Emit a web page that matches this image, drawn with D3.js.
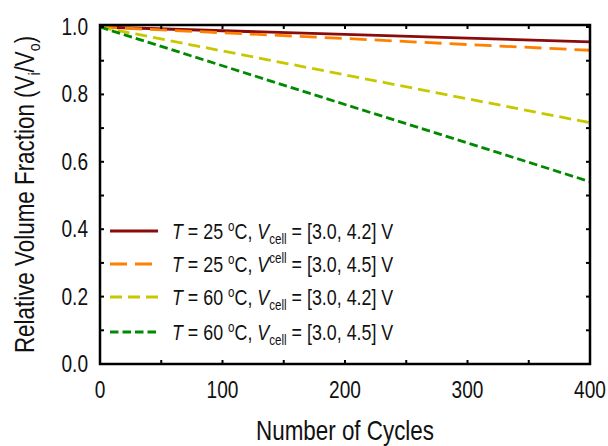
<!DOCTYPE html>
<html>
<head>
<meta charset="utf-8">
<script src="https://cdn.jsdelivr.net/npm/d3@7"></script>
<style>
  html, body { margin: 0; padding: 0; background: #fff; }
  svg text { font-family: "Liberation Sans", Arial, sans-serif; fill: #111; }
</style>
</head>
<body>
<svg id="chart" width="608" height="446"></svg>
<script>
// Cycle counts sampled along each curve
const cycles = [0, 100, 200, 300, 400];

// Relative volume fraction V_i/V_o for each test condition
const fracT25V42 = [1.0, 0.989, 0.978, 0.967, 0.956];
const fracT25V45 = [1.0, 0.983, 0.966, 0.948, 0.931];
const fracT60V42 = [1.0, 0.929, 0.858, 0.787, 0.716];
const fracT60V45 = [1.0, 0.885, 0.770, 0.656, 0.541];

const xTicks = [0, 100, 200, 300, 400];
const yTicks = [0.0, 0.2, 0.4, 0.6, 0.8, 1.0];

const series = [
  { values: fracT25V42, color: "#8b0a0a", dash: null,    T: "25", V: "[3.0, 4.2] V", sup: false },
  { values: fracT25V45, color: "#ff8000", dash: "17,8",  T: "25", V: "[3.0, 4.5] V", sup: true },
  { values: fracT60V42, color: "#c8c800", dash: "12,6",  T: "60", V: "[3.0, 4.2] V", sup: false },
  { values: fracT60V45, color: "#008a00", dash: "8.5,4", T: "60", V: "[3.0, 4.5] V", sup: false }
];

const NARROW = 0.83; // horizontal squeeze giving a narrow face

const svg = d3.select("#chart");
const plot = { left: 100, right: 590, top: 25, bottom: 364 };

const x = d3.scaleLinear().domain([0, 400]).range([plot.left, plot.right]);
const y = d3.scaleLinear().domain([0, 1.006]).range([plot.bottom, plot.top]);

// Text placed at (tx, ty) and squeezed horizontally
function narrowText(parent, tx, ty, size, anchor, rotate) {
  return parent.append("text")
    .attr("transform", `translate(${tx},${ty})${rotate ? ` rotate(${rotate})` : ""} scale(${NARROW},1)`)
    .attr("font-size", size)
    .attr("text-anchor", anchor);
}

// Data lines
const line = d3.line().x((d, i) => x(cycles[i])).y(d => y(d));
series.forEach(s => {
  svg.append("path")
    .datum(s.values)
    .attr("d", line)
    .attr("fill", "none")
    .attr("stroke", s.color)
    .attr("stroke-width", 2.8)
    .attr("stroke-dasharray", s.dash);
});

// Inward ticks on all four sides
const xMinor = d3.range(50, 400, 100);
const yMinor = d3.range(0.1, 1.0, 0.2);
const tickG = svg.append("g").attr("stroke", "#000").attr("stroke-width", 2);
xTicks.concat(xMinor).forEach(v => {
  const len = 4;
  tickG.append("line").attr("x1", x(v)).attr("x2", x(v)).attr("y1", plot.bottom).attr("y2", plot.bottom - len);
  tickG.append("line").attr("x1", x(v)).attr("x2", x(v)).attr("y1", plot.top).attr("y2", plot.top + len);
});
yTicks.concat(yMinor).forEach(v => {
  const len = 4;
  tickG.append("line").attr("x1", plot.left).attr("x2", plot.left + len).attr("y1", y(v)).attr("y2", y(v));
  tickG.append("line").attr("x1", plot.right).attr("x2", plot.right - len).attr("y1", y(v)).attr("y2", y(v));
});

// Frame
svg.append("rect")
  .attr("x", plot.left).attr("y", plot.top)
  .attr("width", plot.right - plot.left).attr("height", plot.bottom - plot.top)
  .attr("fill", "none").attr("stroke", "#000").attr("stroke-width", 2.5);

// Tick labels
xTicks.forEach(v => narrowText(svg, x(v), 398, 23, "middle").text(d3.format("d")(v)));
yTicks.forEach(v => narrowText(svg, 88, y(v) + 8, 23, "end").text(d3.format(".1f")(v)));

// Axis titles
narrowText(svg, (plot.left + plot.right) / 2, 440, 27, "middle").text("Number of Cycles");

const yTitle = narrowText(svg, 34, (plot.top + plot.bottom) / 2, 27, "middle", -90);
yTitle.append("tspan").text("Relative Volume Fraction (V");
yTitle.append("tspan").attr("font-size", 17).attr("dy", 6).text("i");
yTitle.append("tspan").attr("dy", -6).text("/V");
yTitle.append("tspan").attr("font-size", 17).attr("dy", 6).text("o");
yTitle.append("tspan").attr("dy", -6).text(")");

// Legend
const legendRows = [231, 264, 297, 332];
series.forEach((s, i) => {
  const ly = legendRows[i];
  svg.append("line")
    .attr("x1", 110).attr("x2", 158).attr("y1", ly).attr("y2", ly)
    .attr("stroke", s.color).attr("stroke-width", 2.8)
    .attr("stroke-dasharray", s.dash);
  const t = narrowText(svg, 172, ly + 7.6, 21.5, "start");
  t.append("tspan").attr("font-style", "italic").text("T");
  t.append("tspan").text(` = ${s.T} `);
  t.append("tspan").attr("font-size", 14).attr("dy", -8).text("o");
  t.append("tspan").attr("dy", 8).text("C, ");
  t.append("tspan").attr("font-style", "italic").text("V");
  if (s.sup) {
    t.append("tspan").attr("font-size", 14).attr("dy", -9).text("cell");
    t.append("tspan").attr("dy", 9).text(` = ${s.V}`);
  } else {
    t.append("tspan").attr("font-size", 14).attr("dy", 5).text("cell");
    t.append("tspan").attr("dy", -5).text(` = ${s.V}`);
  }
});
</script>
</body>
</html>
